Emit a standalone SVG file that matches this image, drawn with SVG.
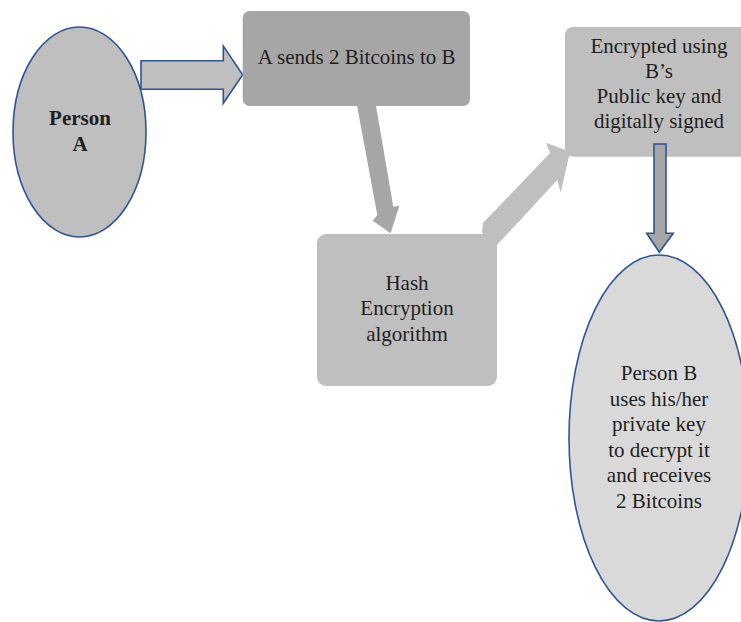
<svg xmlns="http://www.w3.org/2000/svg" width="741" height="622" viewBox="0 0 741 622">
<style>
.t{font-family:"Liberation Serif","Times New Roman",serif;font-size:21px;fill:#1e1e1e;text-anchor:middle}
.b{font-weight:bold}
.ol{stroke:#2f5597;stroke-width:1.6}
</style>
<rect width="741" height="622" fill="#ffffff"/>
<g id="connectors">
<polygon id="c1" class="ol" fill="#bfbfbf" points="141,60.7 223.3,60.7 223.3,46 242.7,74.7 223.3,103.3 223.3,89.3 141,89.3"/>
<polygon id="c2" fill="#a6a6a6" points="356,100 375,100 393.3,206.7 399.3,205.7 390.7,233.3 372.7,220.7 377.3,215"/>
<polygon id="c3" fill="#bfbfbf" points="482,232 483,223 550,153 546,142.7 570,151.7 560.7,192.7 557.3,180 497,245 490,250"/>
</g>
<g id="personA">
<ellipse class="ol" cx="79.5" cy="132" rx="66.5" ry="105" fill="#bfbfbf"/>
<text class="t b" x="80" y="125.3">Person</text>
<text class="t b" x="80" y="150.7">A</text>
</g>
<g id="send">
<rect x="242.7" y="11" width="227.3" height="95" rx="7" fill="#a6a6a6"/>
<text class="t" x="356.7" y="64.3">A sends 2 Bitcoins to B</text>
</g>
<g id="hash">
<rect x="317" y="234" width="180" height="152" rx="9" fill="#bfbfbf"/>
<text class="t" x="407" y="290">Hash</text>
<text class="t" x="407" y="315.3">Encryption</text>
<text class="t" x="407" y="340.6">algorithm</text>
</g>
<g id="encrypted">
<rect x="565" y="27" width="190" height="129.7" rx="8" fill="#bfbfbf"/>
<text class="t" x="659" y="52.7">Encrypted using</text>
<text class="t" x="659" y="77.9">B’s</text>
<text class="t" x="659" y="103.2">Public key and</text>
<text class="t" x="659" y="128.4">digitally signed</text>
</g>
<g id="c4wrap">
<polygon id="c4" class="ol" fill="#a6a6a6" points="654,144 666,144 666,233.3 673.3,233.3 659.3,252.3 646.7,233.3 654,233.3"/>
</g>
<g id="personB">
<ellipse class="ol" cx="659" cy="438" rx="90" ry="183" fill="#d9d9d9"/>
<text class="t" x="659" y="380">Person B</text>
<text class="t" x="659" y="405.5">uses his/her</text>
<text class="t" x="659" y="431">private key</text>
<text class="t" x="659" y="456.5">to decrypt it</text>
<text class="t" x="659" y="482">and receives</text>
<text class="t" x="659" y="507.5">2 Bitcoins</text>
</g>
</svg>
